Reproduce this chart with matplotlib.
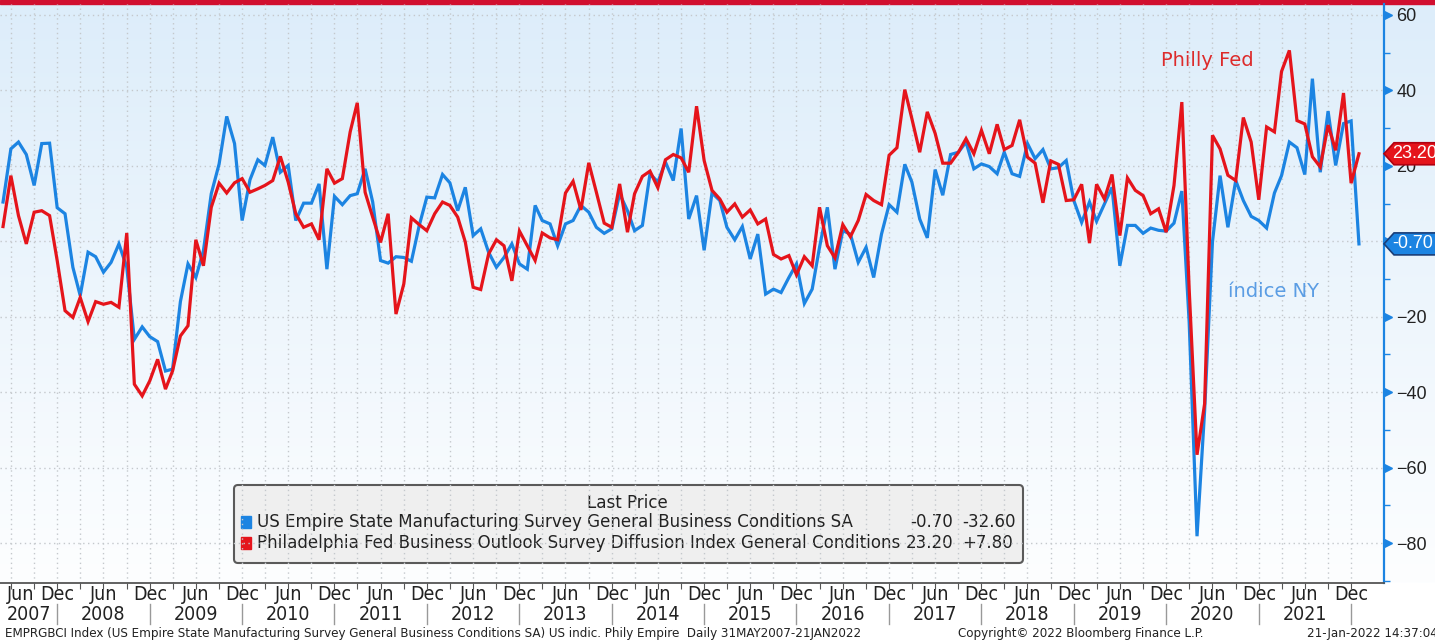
import numpy as np
import pandas as pd
import matplotlib
matplotlib.use('Agg')
import matplotlib.pyplot as plt
import matplotlib.dates as mdates
import matplotlib.transforms as mtransforms
from matplotlib.colors import LinearSegmentedColormap
from matplotlib.patches import FancyBboxPatch, Rectangle, Polygon

W, H = 1435, 644

# monthly readings, May 2007 .. Jan 2022
empire = [10.4, 24.5, 26.3, 23.0, 14.8, 25.9, 26.0, 8.9, 7.3, -6.9, -14.4, -2.9,
          -4.1, -8.2, -5.6, -0.7, -6.9, -26.0, -22.7, -25.3, -26.6, -34.4, -33.9, -16.0,
          -6.0, -9.6, -2.5, 12.6, 20.5, 33.1, 25.9, 5.5, 16.3, 21.6, 20.1, 27.6,
          18.3, 20.1, 5.5, 10.1, 10.1, 15.2, -7.4, 11.9, 9.7, 12.1, 12.6, 19.2,
          10.4, -5.1, -5.8, -4.1, -4.3, -5.3, 4.2, 11.7, 11.5, 17.7, 15.5, 8.1,
          14.3, 1.5, 3.3, -2.9, -6.9, -4.3, -0.7, -6.0, -7.4, 9.5, 5.5, 4.6,
          -1.2, 4.6, 5.5, 9.5, 7.7, 3.7, 2.1, 3.3, 12.6, 8.1, 2.8, 4.2,
          17.9, 15.7, 21.0, 16.1, 29.9, 5.9, 12.1, -2.4, 12.8, 10.8, 3.7, 0.4,
          3.9, -4.7, 1.9, -14.0, -12.7, -13.6, -9.6, -6.0, -16.5, -12.7, -1.6, 9.0,
          -7.4, 2.8, 1.9, -5.6, -1.6, -9.6, 1.9, 9.7, 7.7, 20.4, 15.7, 5.9,
          0.9, 19.0, 12.2, 23.0, 23.6, 26.3, 19.2, 20.5, 19.8, 17.9, 23.6, 17.9,
          17.2, 25.9, 21.9, 24.3, 19.2, 19.5, 21.4, 10.8, 5.0, 10.4, 5.3, 9.9,
          14.3, -6.5, 4.2, 4.2, 2.1, 3.5, 2.9, 2.7, 4.8, 13.3, -21.5, -78.2,
          -45.0, -0.2, 17.4, 3.7, 16.1, 10.8, 6.6, 5.5, 3.5, 12.8, 17.4, 26.3,
          24.8, 17.7, 43.1, 18.3, 34.5, 20.1, 31.2, 31.9, -0.7]

philly = [3.9, 17.4, 6.8, -0.7, 7.7, 8.1, 6.8, -5.1, -18.4, -20.2, -14.9, -21.3,
          -16.0, -16.7, -16.2, -17.5, 2.2, -37.9, -41.0, -37.0, -31.3, -39.2, -34.4, -25.1,
          -22.4, 0.4, -6.5, 9.0, 15.4, 12.8, 15.5, 16.6, 13.0, 13.9, 14.8, 16.1,
          22.5, 15.7, 7.3, 3.7, 4.6, 0.4, 19.2, 15.4, 16.6, 29.0, 36.7, 13.0,
          6.4, -0.3, 7.3, -19.3, -11.3, 6.2, 4.4, 2.8, 7.3, 10.4, 9.5, 6.4,
          -0.2, -12.2, -12.8, -3.4, 0.4, -1.2, -10.5, 2.7, -1.2, -5.1, 2.2, 0.9,
          0.4, 12.8, 15.9, 8.3, 20.8, 13.0, 4.8, 3.7, 15.2, 2.4, 12.6, 17.2,
          18.6, 14.2, 21.6, 23.0, 22.1, 18.3, 35.8, 21.4, 13.5, 11.2, 7.7, 9.9,
          6.4, 8.3, 4.6, 5.9, -3.5, -4.7, -3.8, -8.9, -4.1, -6.5, 9.0, -1.2,
          -4.4, 4.4, 1.2, 5.5, 12.4, 10.8, 9.7, 22.8, 24.8, 40.2, 32.5, 23.6,
          34.3, 28.6, 20.7, 20.7, 23.6, 27.2, 23.2, 29.4, 23.2, 31.0, 24.3, 25.4,
          32.2, 22.3, 20.7, 10.2, 21.3, 20.4, 10.8, 11.0, 15.1, -0.5, 15.1, 11.2,
          17.7, 1.5, 16.8, 13.5, 12.1, 7.3, 8.6, 2.4, 14.8, 36.9, -12.7, -56.6,
          -43.1, 28.1, 24.5, 17.5, 16.1, 32.8, 26.3, 11.0, 30.3, 29.0, 45.0, 50.6,
          32.0, 31.1, 22.4, 19.7, 30.8, 24.1, 39.3, 15.4, 23.2]

dates = pd.date_range('2007-05-01', periods=len(empire), freq='MS')

empire_name = 'US Empire State Manufacturing Survey General Business Conditions SA'
philly_name = 'Philadelphia Fed Business Outlook Survey Diffusion Index General Conditions'

BLUE = '#1c84e2'
RED = '#e5141b'
NARROW = ['Liberation Sans Narrow', 'DejaVu Sans']
TXT = dict(family=NARROW, stretch='condensed', color='#222222')

fig = plt.figure(figsize=(W / 100, H / 100), dpi=100)

# backdrop in pixel coords
bg = fig.add_axes([0, 0, 1, 1], zorder=-10)
bg.set_xlim(0, W)
bg.set_ylim(H, 0)
bg.axis('off')
grad = np.linspace(0, 1, 256)[:, None]
cmap = LinearSegmentedColormap.from_list('bg', ['#ddedfa', '#fdfeff'])
bg.imshow(grad, extent=[0, W, 583, 4], cmap=cmap, aspect='auto')
bg.add_patch(Rectangle((0, 0), W, 4, color='#d10f2f'))

ax = fig.add_axes([0, 1 - 583 / H, 1384 / W, 579 / H])
ax.patch.set_alpha(0)
ax.plot(dates, empire, color=BLUE, lw=2.3, solid_joinstyle='miter')
ax.plot(dates, philly, color=RED, lw=2.3, solid_joinstyle='miter')

left = mdates.date2num(pd.Timestamp('2007-05-01')) - 12
right = mdates.date2num(pd.Timestamp('2021-12-01')) + 130
ax.set_xlim(left, right)
ax.set_ylim(-90.6, 62.9)

quarters = pd.date_range('2007-06-01', '2021-12-01', freq='3MS')
ax.set_xticks(quarters)
ax.tick_params(axis='x', length=4, color='#555555', labelbottom=False)
ax.set_yticks(np.arange(-80, 61, 20))
ax.set_yticks(np.arange(-90, 61, 10), minor=True)
ax.yaxis.tick_right()
ax.tick_params(axis='y', which='major', length=0, pad=9, labelsize=13, labelcolor='#222222')
ax.tick_params(axis='y', which='minor', length=4, width=1, color=BLUE)
for lab in ax.get_yticklabels():
    lab.set_family(['Liberation Sans', 'DejaVu Sans'])
ax.grid(True, which='major', color='#c4c8cc', linestyle=(0, (1, 2.5)), lw=1)
for s in ['top', 'left']:
    ax.spines[s].set_visible(False)
ax.spines['right'].set_color(BLUE)
ax.spines['right'].set_linewidth(1.6)
ax.spines['bottom'].set_color('#555555')
ax.spines['bottom'].set_linewidth(1.3)

# triangle markers on the major ticks
tri = mtransforms.blended_transform_factory(ax.transAxes, ax.transData)
ax.plot([1.003] * 8, np.arange(-80, 61, 20), ls='none', marker='>', ms=6,
        color=BLUE, transform=tri, clip_on=False)

# month / year labels
xpix = lambda d: ax.transData.transform((mdates.date2num(d), 0))[0]
for d in pd.date_range('2007-06-01', '2021-12-01', freq='MS'):
    if d.month not in (6, 12):
        continue
    x = xpix(d)
    ha = 'center'
    if x < 20:
        x, ha = 7, 'left'
    bg.text(x, 594, 'Jun' if d.month == 6 else 'Dec', ha=ha, va='center',
            fontsize=14, **TXT)
    if d.month == 6:
        bg.text(x, 614, str(d.year), ha=ha, va='center', fontsize=14, **TXT)
    else:
        bg.plot([x, x], [604, 624], color='#999999', lw=1)

# overlay for the last value tags
top = fig.add_axes([0, 0, 1, 1], zorder=10)
top.set_xlim(0, W)
top.set_ylim(H, 0)
top.axis('off')


def tag(value, color, edge):
    y = H - ax.transData.transform((0, value))[1]
    pts = [(1384, y), (1394, y - 11), (1440, y - 11), (1440, y + 11), (1394, y + 11)]
    top.add_patch(Polygon(pts, closed=True, facecolor=color, edgecolor=edge, lw=1.2))
    top.text(1392, y, f'{value:.2f}', ha='left', va='center', fontsize=13,
             family=['Liberation Sans', 'DejaVu Sans'], color='white')


tag(philly[-1], RED, '#b00010')
tag(empire[-1], BLUE, '#1a3e78')

# series labels
ax.text(pd.Timestamp('2019-11-10'), 47.8, 'Philly Fed', color='#dd2b2b', fontsize=14,
        va='center', ha='left')
ax.text(pd.Timestamp('2020-08-01'), -13.2, 'índice NY', color='#5b9de4', fontsize=14,
        va='center', ha='left')

# legend box
bg.add_patch(FancyBboxPatch((234, 485), 789, 78, boxstyle='round,pad=0,rounding_size=4',
                            facecolor='#efefef', edgecolor='#5a5a5a', lw=1.5))
bg.text(627, 503, 'Last Price', ha='center', va='center', fontsize=13.3, **TXT)
rows = [(empire_name, empire, BLUE, 522), (philly_name, philly, RED, 543)]
for name, vals, color, y in rows:
    bg.add_patch(Rectangle((241, y - 6), 10, 12, color=color))
    bg.text(257, y, name, ha='left', va='center', fontsize=13.3, **TXT)
    bg.text(953, y, f'{vals[-1]:.2f}', ha='right', va='center', fontsize=13.3, **TXT)
    bg.text(962, y, f'{vals[-1] - vals[-2]:+.2f}', ha='left', va='center', fontsize=13.3,
            **TXT)

# footer
bg.text(5, 634, 'EMPRGBCI Index (US Empire State Manufacturing Survey General Business '
        'Conditions SA) US indic. Phily Empire  Daily 31MAY2007-21JAN2022',
        ha='left', va='center', fontsize=9.5, **TXT)
bg.text(958, 634, 'Copyright\u00a9 2022 Bloomberg Finance L.P.', ha='left', va='center',
        fontsize=9.5, **TXT)
bg.text(1307, 634, '21-Jan-2022 14:37:04', ha='left', va='center', fontsize=9.5, **TXT)

fig.savefig('out.png', dpi=100)
